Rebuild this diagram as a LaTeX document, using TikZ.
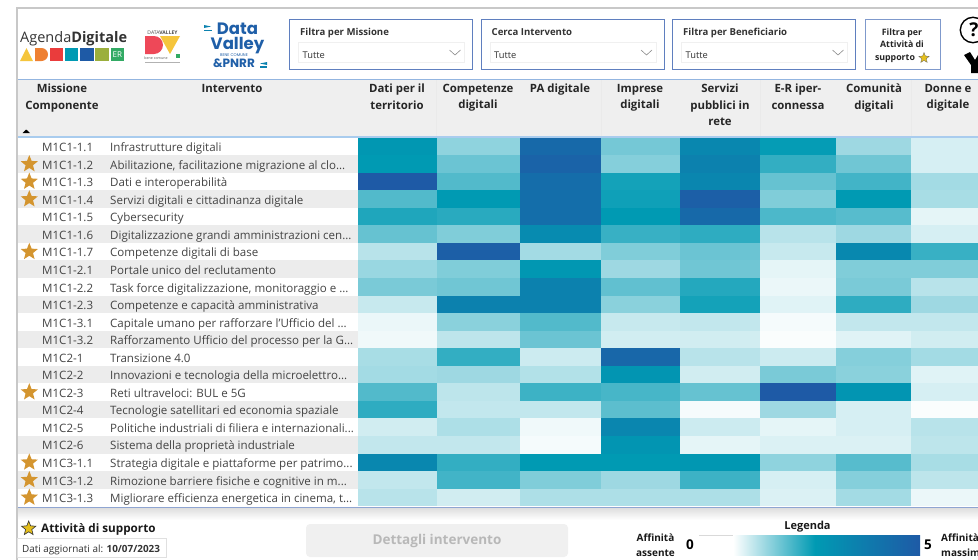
\documentclass[tikz,border=0pt]{standalone}
\usepackage{fontspec}
\setmainfont{Open Sans}
\newfontfamily\logofont{Poppins}
\usetikzlibrary{shapes.geometric}
\definecolor{hm}{HTML}{009AB3}
\definecolor{hb}{HTML}{1E5AA6}
\definecolor{txtgrey}{HTML}{444444}
\definecolor{hdrgrey}{HTML}{EFEFEF}
\definecolor{rowgrey}{HTML}{ECECEC}
\definecolor{framegrey}{HTML}{C8C8C8}
\definecolor{slicer}{HTML}{5F7FBF}
\definecolor{hline}{HTML}{A9CCEE}
\definecolor{gold}{HTML}{D4952F}
\definecolor{dvblue}{HTML}{1F5FA8}
\definecolor{lgyellow}{RGB}{245,197,60}
\definecolor{lgorange}{RGB}{238,128,50}
\definecolor{lgred}{RGB}{234,60,60}
\definecolor{lgolive}{RGB}{155,175,60}
\definecolor{lggreen}{RGB}{50,170,100}
\definecolor{dvred}{RGB}{238,72,88}
\newcommand{\eli}{...}
\newcommand{\cellcol}[1]{%
  \ifdim #1pt>50pt
    \pgfmathtruncatemacro{\pp}{2*#1-100}\colorlet{cellc}{hb!\pp!hm}%
  \else
    \pgfmathtruncatemacro{\pp}{2*#1}\colorlet{cellc}{hm!\pp!white}%
  \fi}
\tikzset{
  x=1pt,y=-1pt,
  hdr/.style={font=\bfseries\fontsize{11.4}{16.3}\selectfont,align=center,text=black!85,anchor=north,inner sep=0pt},
  code/.style={font=\fontsize{11.55}{13}\selectfont,text=txtgrey,anchor=base west,inner sep=0pt},
  desc/.style={font=\fontsize{11.55}{13}\selectfont,text=txtgrey,anchor=base west,inner sep=0pt},
  slicerbox/.style={draw=slicer,line width=0.9pt,fill=white},
  slicertitle/.style={font=\bfseries\fontsize{9.6}{11}\selectfont,text=black!80,anchor=base west,inner sep=0pt},
  slicerval/.style={font=\fontsize{9.3}{11}\selectfont,text=black!80,anchor=base west,inner sep=0pt},
  starmark/.style={star,star points=5,star point ratio=2.3,fill=gold,inner sep=0pt,minimum size=18pt},
}
\begin{document}
\begin{tikzpicture}
\useasboundingbox (0,0) rectangle (978,560);
\fill[white] (0,0) rectangle (978,560);
% report frame
\draw[framegrey,line width=1.2pt] (978,8) -- (17,8) -- (17,560);
% header band
\fill[hdrgrey] (18,79) rectangle (978,137);
\draw[hline!70!slicer,line width=1pt] (18,79) -- (978,79);
\draw[hline,line width=1.2pt] (18,137) -- (978,137);
\foreach \x in {436.5,601,760,911} \draw[hdrgrey!98!black,line width=0.3pt] (\x,80) -- (\x,136);
% rows
\foreach \r in {2,4,6,8,10,12,14,16,18,20}{
  \fill[rowgrey] (18,{137.6+(\r-1)*17.55}) rectangle (358,{137.6+\r*17.55});
}
% heat cells
\foreach \r/\vals in {
1/{52,22,88,27,65,49,19,8},
2/{50,29,93,24,70,40,28,8},
3/{100,34,85,46,66,30,37,18},
4/{34,50,84,47,96,25,50,17},
5/{44,42,84,50,88,35,33,5},
6/{30,25,62,39,41,14,19,8},
7/{14,96,18,25,29,11,64,39},
8/{20,25,52,19,28,5,25,25},
9/{26,28,70,31,43,4,26,14},
10/{11,70,70,23,46,6,41,19},
11/{4,23,34,11,12,2,12,12},
12/{3,13,29,9,9,1,6,9},
13/{17,40,10,90,14,10,24,18},
14/{18,19,15,54,9,26,23,6},
15/{34,13,38,36,30,100,54,8},
16/{41,12,12,32,2,19,8,1},
17/{9,16,3,66,10,5,8,14},
18/{12,12,2,54,5,7,7,13},
19/{65,40,50,50,52,22,33,17},
20/{12,37,25,19,38,8,24,13},
21/{14,9,16,16,16,7,18,4}}{
  \foreach \v [count=\c] in \vals {
    \pgfmathsetmacro{\xa}{{358,436.5,520,601,680,760,836,911}[\c-1]}
    \pgfmathsetmacro{\xb}{{436.5,520,601,680,760,836,911,978}[\c-1]}
    \cellcol{\v}
    \fill[cellc] (\xa,{137.6+(\r-1)*17.55}) rectangle (\xb,{137.6+\r*17.55});
  }
}
% row texts
\foreach \r/\cd/\ds in {
1/M1C1-1.1/Infrastrutture digitali,
2/M1C1-1.2/{Abilitazione, facilitazione migrazione al clo\eli},
3/M1C1-1.3/Dati e interoperabilità,
4/M1C1-1.4/Servizi digitali e cittadinanza digitale,
5/M1C1-1.5/Cybersecurity,
6/M1C1-1.6/Digitalizzazione grandi amministrazioni cen\eli,
7/M1C1-1.7/Competenze digitali di base,
8/M1C1-2.1/Portale unico del reclutamento,
9/M1C1-2.2/{Task force digitalizzazione, monitoraggio e \eli},
10/M1C1-2.3/Competenze e capacità amministrativa,
11/M1C1-3.1/Capitale umano per rafforzare l’Ufficio del \eli,
12/M1C1-3.2/Rafforzamento Ufficio del processo per la G\eli,
13/M1C2-1/Transizione 4.0,
14/M1C2-2/Innovazioni e tecnologia della microelettro\eli,
15/M1C2-3/Reti ultraveloci: BUL e 5G,
16/M1C2-4/Tecnologie satellitari ed economia spaziale,
17/M1C2-5/Politiche industriali di filiera e internazionali\eli,
18/M1C2-6/Sistema della proprietà industriale,
19/M1C3-1.1/Strategia digitale e piattaforme per patrimo\eli,
20/M1C3-1.2/Rimozione barriere fisiche e cognitive in m\eli,
21/M1C3-1.3/{Migliorare efficienza energetica in cinema, t\eli}}{
  \node[code] (c\r) at (42,{137.6+(\r-1)*17.55+14}) {\cd};
  \node[desc] (d\r) at (110,{137.6+(\r-1)*17.55+14}) {\ds};
}
\foreach \r in {2,3,4,7,15,19,20,21}
  \node[starmark] (s\r) at (29.3,{137.6+(\r-1)*17.55+8.9}) {};
% column headings
\node[hdr] (hm1) at (62,84) {Missione\\Componente};
\node[hdr] (hi) at (232,84) {Intervento};
\node[hdr] (h1) at (397,84) {Dati per il\\territorio};
\node[hdr] (h2) at (478,84) {Competenze\\digitali};
\node[hdr] (h3) at (560,84) {PA digitale};
\node[hdr] (h4) at (640,84) {Imprese\\digitali};
\node[hdr] (h5) at (720,84) {Servizi\\pubblici in\\rete};
\node[hdr] (h6) at (798,84) {E-R iper-\\connessa};
\node[hdr] (h7) at (874,84) {Comunità\\digitali};
\node[hdr] (h8) at (948,84) {Donne e\\digitale};
\fill[black] (22.5,133) -- (30,133) -- (26.2,129.5) -- cycle;
% slicers
\foreach \n/\xa/\xb/\ttl in {a/289.5/472.5/Filtra per Missione,b/481/664/Cerca Intervento,c/672.5/855.5/Filtra per Beneficiario}{
  \node[slicerbox,minimum width={\xb pt-\xa pt},minimum height=50pt,inner sep=0pt,outer sep=0pt] (sl\n) at ({(\xa+\xb)/2},44) {};
  \node[slicertitle] (st\n) at ({\xa+10.5},35) {\ttl};
  \draw[black!6,fill=white,line width=0.8pt] ({\xa+9},42.5) rectangle ({\xb-8},62.5);
  \node[slicerval] (sv\n) at ({\xa+13},58) {Tutte};
  \draw[black!45,line width=0.6pt] ({\xb-23},50) -- ({\xb-17.5},55) -- ({\xb-12},50);
}
\node[slicerbox,minimum width=75pt,minimum height=50pt,inner sep=0pt,outer sep=0pt,draw=slicer!80!white] (sld) at (902.5,44.5) {};
\node[font=\bfseries\fontsize{8.8}{12.4}\selectfont,align=center,text=black!85,inner sep=0pt] (sldt) at (902,45.5) {Filtra per\\Attività di\\supporto\hspace*{14pt}};
\node[star,star points=5,star point ratio=2.3,fill=gold!60!yellow,draw=black!60,line width=0.3pt,inner sep=0pt,minimum size=11pt] (sldstar) at (924,58) {};
% help icon
\draw[black,line width=1.4pt] (973,30) circle (12.7);
\node[font=\bfseries\fontsize{19}{20}\selectfont,text=black,inner sep=0pt] (q) at (974,30) {?};
% funnel
\fill[black] (964,55) -- (970,52) -- (975,60) -- (978,55) -- (978,73) -- (971,73) -- (971,65) -- cycle;
% AgendaDigitale logo
\node[font=\fontsize{14.5}{16}\selectfont,anchor=base west,inner sep=0pt,text=black!80] (ad) at (20,42.5) {Agenda\textbf{Digitale}};
\fill[lgyellow] (20,61) -- (33,61) -- (26.5,48) -- cycle;
\fill[lgorange] (35,48) -- (41.5,48) arc[start angle=-90,end angle=90,radius=6.5] -- (35,61) -- cycle;
\fill[lgred] (50,48) rectangle (63,61);
\fill[hm] (65,48) rectangle (78,61);
\fill[hb] (80,48) rectangle (94,61);
\fill[lgolive] (95,48) rectangle (109,61);
\fill[lggreen] (110.5,48) rectangle (124,61);
\node[font=\fontsize{8}{9}\selectfont,text=white,inner sep=0pt] (er) at (117.3,54.5) {ER};
% DV logo
\node[font=\fontsize{5}{5}\selectfont,text=black!70,inner sep=0pt] (dvt) at (162.5,32.7) {DATA\textbf{VALLEY}};
\fill[dvred] (145,36) -- (154,36) arc[start angle=-90,end angle=90,radius=9] -- (145,54) -- cycle;
\fill[lgyellow] (160,36) -- (180,36) -- (170,54) -- cycle;
\fill[lggreen] (175.5,53.5) rectangle (180,58);
\node[font=\fontsize{3.6}{4}\selectfont,text=black!65,inner sep=0pt] (dvb) at (156,57.7) {bene comune};
\fill[black!30] (145,61.5) rectangle (180,62.5);
% Data Valley logo
\node[font=\logofont\bfseries\fontsize{16.5}{14.5}\selectfont,text=dvblue,align=center,inner sep=0pt] (dv1) at (237.5,38.5) {Data\\Valley};
\node[font=\logofont\fontsize{4}{5}\selectfont,text=dvblue,inner sep=0pt] (dv2) at (234,54.7) {BENE COMUNE};
\node[font=\logofont\bfseries\fontsize{12}{12}\selectfont,text=dvblue,inner sep=0pt] (dv3) at (234,63.5) {\&PNRR};
\fill[hm!60!dvblue] (204,25) -- (211,26.5) -- (204,28) -- cycle;
\fill[hm!60!dvblue] (204,29.5) -- (212,29.5) -- (212,31) -- (204,31) -- cycle;
\fill[hm!60!dvblue] (267,62) -- (260,63.5) -- (267,65) -- cycle;
\fill[hm!60!dvblue] (260,66) -- (267,66) -- (267,67.5) -- (260,67.5) -- cycle;
% bottom band
\fill[top color=black!14,bottom color=white] (18,507) rectangle (978,520);
\draw[slicer!70!white,line width=0.9pt] (18,507) -- (978,507);
% bottom-left
\node[star,star points=5,star point ratio=2.3,fill=gold!60!yellow,draw=black!80,line width=0.6pt,inner sep=0pt,minimum size=15pt] (sup) at (28.7,528.5) {};
\node[font=\bfseries\fontsize{11.7}{12}\selectfont,text=black!90,anchor=base west,inner sep=0pt] (supt) at (41,532.5) {Attività di supporto};
\draw[black!12,line width=0.8pt] (17.5,538.5) rectangle (166,557);
\node[font=\fontsize{9.9}{11}\selectfont,text=black!80,anchor=base west,inner sep=0pt] (agg) at (22,552.5) {Dati aggiornati al: \textbf{10/07/2023}};
% button
\fill[rounded corners=4pt,fill=black!6] (306,524) rectangle (568,557);
\node[font=\bfseries\fontsize{13.5}{14}\selectfont,text=black!28,inner sep=0pt] (btn) at (437,541) {Dettagli intervento};
% legend
\node[font=\bfseries\fontsize{11}{12}\selectfont,text=black!90,inner sep=0pt] (leg) at (807.5,527) {Legenda};
\node[font=\bfseries\fontsize{10}{15.5}\selectfont,align=center,text=black!90,inner sep=0pt] (aa) at (655.5,545) {Affinità\\assente};
\node[font=\bfseries\fontsize{13.5}{14}\selectfont,text=black,inner sep=0pt] (n0) at (690,545) {0};
\draw[black!15,line width=0.5pt] (699,535) -- (920,535);
\shade[left color=white,right color=hm] (733,535) rectangle (815,555);
\shade[left color=hm,right color=hb] (815,535) rectangle (920,555);
\node[font=\bfseries\fontsize{13.5}{14}\selectfont,text=black,inner sep=0pt] (n5) at (928,545) {5};
\node[font=\bfseries\fontsize{10}{15.5}\selectfont,align=left,text=black!90,anchor=west,inner sep=0pt] (am) at (941,545) {Affinità\\massima};
\end{tikzpicture}
\end{document}
